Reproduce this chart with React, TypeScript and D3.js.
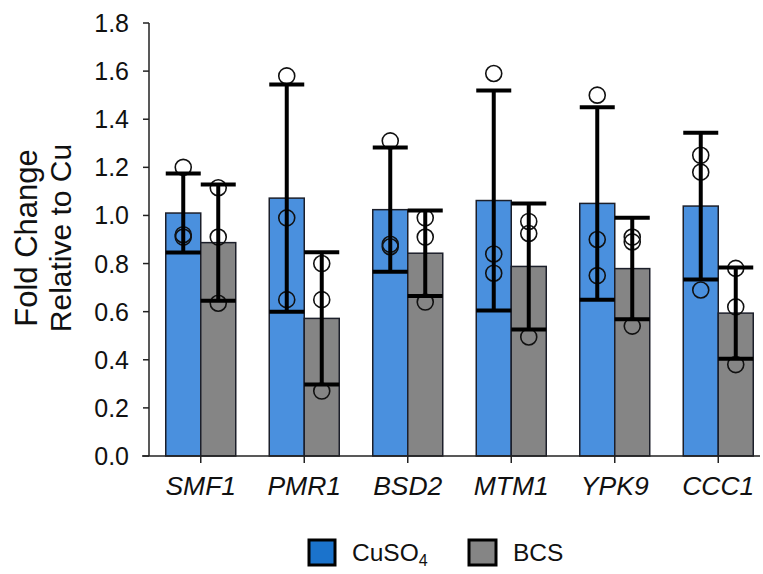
import React from "react";
import * as d3 from "d3";

const genes = ["SMF1", "PMR1", "BSD2", "MTM1", "YPK9", "CCC1"];
const seriesNames = ["CuSO4", "BCS"];
const cuMean = [1.01, 1.072, 1.024, 1.062, 1.05, 1.039];
const cuSD = [0.164, 0.472, 0.258, 0.457, 0.4, 0.305];
const bcsMean = [0.887, 0.572, 0.843, 0.788, 0.779, 0.594];
const bcsSD = [0.242, 0.275, 0.178, 0.262, 0.211, 0.19];
const cuPoints = [
  [1.2, 0.91, 0.92],
  [1.58, 0.99, 0.65],
  [1.31, 0.87, 0.88],
  [1.59, 0.84, 0.76],
  [1.5, 0.9, 0.75],
  [1.25, 1.18, 0.69],
];
const bcsPoints = [
  [1.115, 0.91, 0.635],
  [0.8, 0.65, 0.27],
  [0.99, 0.91, 0.64],
  [0.975, 0.925, 0.495],
  [0.91, 0.89, 0.54],
  [0.78, 0.62, 0.38],
];
const yTicks = [0, 0.2, 0.4, 0.6, 0.8, 1.0, 1.2, 1.4, 1.6, 1.8];

const W = 763;
const H = 574;
const FONT = "'Liberation Sans', Arial, sans-serif";
const barColors = ["#4a90de", "#858585"];
const legendColors = ["#1b73cc", "#858585"];

export default function App() {
  const x = d3.scaleBand<string>().domain(genes).range([149, 770]).padding(0);
  const inner = d3.scaleBand<string>().domain(seriesNames).range([-35, 35]).padding(0);
  const y = d3.scaleLinear().domain([0, 1.8]).range([456, 23]);
  const means = [cuMean, bcsMean];
  const sds = [cuSD, bcsSD];
  const pts = [cuPoints, bcsPoints];
  const bw = inner.bandwidth();

  return (
    <svg
      width={W}
      height={H}
      style={{ position: "absolute", left: 0, top: 0, background: "#fff" }}
      fontFamily={FONT}
    >
      {/* bars */}
      {genes.map((g, i) => {
        const cx = (x(g) as number) + x.bandwidth() / 2;
        return seriesNames.map((s, k) => (
          <rect
            key={g + s}
            x={cx + (inner(s) as number)}
            y={y(means[k][i])}
            width={bw}
            height={y(0) - y(means[k][i])}
            fill={barColors[k]}
            stroke="#1c1f2a"
            strokeWidth={1.5}
          />
        ));
      })}
      {/* points */}
      {genes.map((g, i) => {
        const cx = (x(g) as number) + x.bandwidth() / 2;
        return seriesNames.map((s, k) =>
          pts[k][i].map((v, j) => (
            <circle
              key={g + s + j}
              cx={cx + (inner(s) as number) + bw / 2}
              cy={y(v)}
              r={8}
              fill="none"
              stroke="#111"
              strokeWidth={1.6}
            />
          ))
        );
      })}
      {/* error bars */}
      {genes.map((g, i) => {
        const cx = (x(g) as number) + x.bandwidth() / 2;
        return seriesNames.map((s, k) => {
          const bx = cx + (inner(s) as number);
          const mx = bx + bw / 2;
          const hi = y(means[k][i] + sds[k][i]);
          const lo = y(means[k][i] - sds[k][i]);
          return (
            <g key={"e" + g + s} stroke="#000" strokeWidth={4}>
              <line x1={mx} x2={mx} y1={hi} y2={lo} />
              <line x1={bx} x2={bx + bw} y1={hi} y2={hi} />
              <line x1={bx} x2={bx + bw} y1={lo} y2={lo} />
            </g>
          );
        });
      })}
      {/* y axis */}
      <line x1={149} x2={149} y1={y(1.8)} y2={y(0)} stroke="#222" strokeWidth={1.5} />
      {yTicks.map((t) => (
        <g key={t}>
          <line x1={143} x2={149} y1={y(t)} y2={y(t)} stroke="#222" strokeWidth={1.5} />
          <text
            x={129}
            y={y(t)}
            dy="0.36em"
            textAnchor="end"
            fontSize={25}
            fill="#111"
          >
            {t.toFixed(1)}
          </text>
        </g>
      ))}
      {/* x axis */}
      <line x1={142} x2={760} y1={y(0)} y2={y(0)} stroke="#222" strokeWidth={1.5} />
      {genes.map((g) => {
        const cx = (x(g) as number) + x.bandwidth() / 2;
        return (
          <g key={"xt" + g}>
            <line x1={cx} x2={cx} y1={y(0)} y2={y(0) + 7} stroke="#222" strokeWidth={1.5} />
            <text
              x={cx}
              y={495}
              textAnchor="middle"
              fontSize={26.5}
              fontStyle="italic"
              fill="#111"
            >
              {g}
            </text>
          </g>
        );
      })}
      {/* y label */}
      <g transform="translate(26,238) rotate(-90)">
        <text x={0} y={0} dy="0.35em" textAnchor="middle" fontSize={31} fill="#111">
          Fold Change
        </text>
      </g>
      <g transform="translate(60,238) rotate(-90)">
        <text x={0} y={0} dy="0.35em" textAnchor="middle" fontSize={30} fill="#111">
          Relative to Cu
        </text>
      </g>
      {/* legend */}
      <rect x={309} y={540} width={26} height={25} fill={legendColors[0]} stroke="#000" strokeWidth={3} />
      <text x={352} y={561} fontSize={24.5} fill="#111">
        CuSO
        <tspan fontSize={16} dy={5}>4</tspan>
      </text>
      <rect x={469} y={540} width={27} height={25} fill={legendColors[1]} stroke="#000" strokeWidth={3} />
      <text x={513} y={561} fontSize={24.5} fill="#111">
        BCS
      </text>
    </svg>
  );
}
